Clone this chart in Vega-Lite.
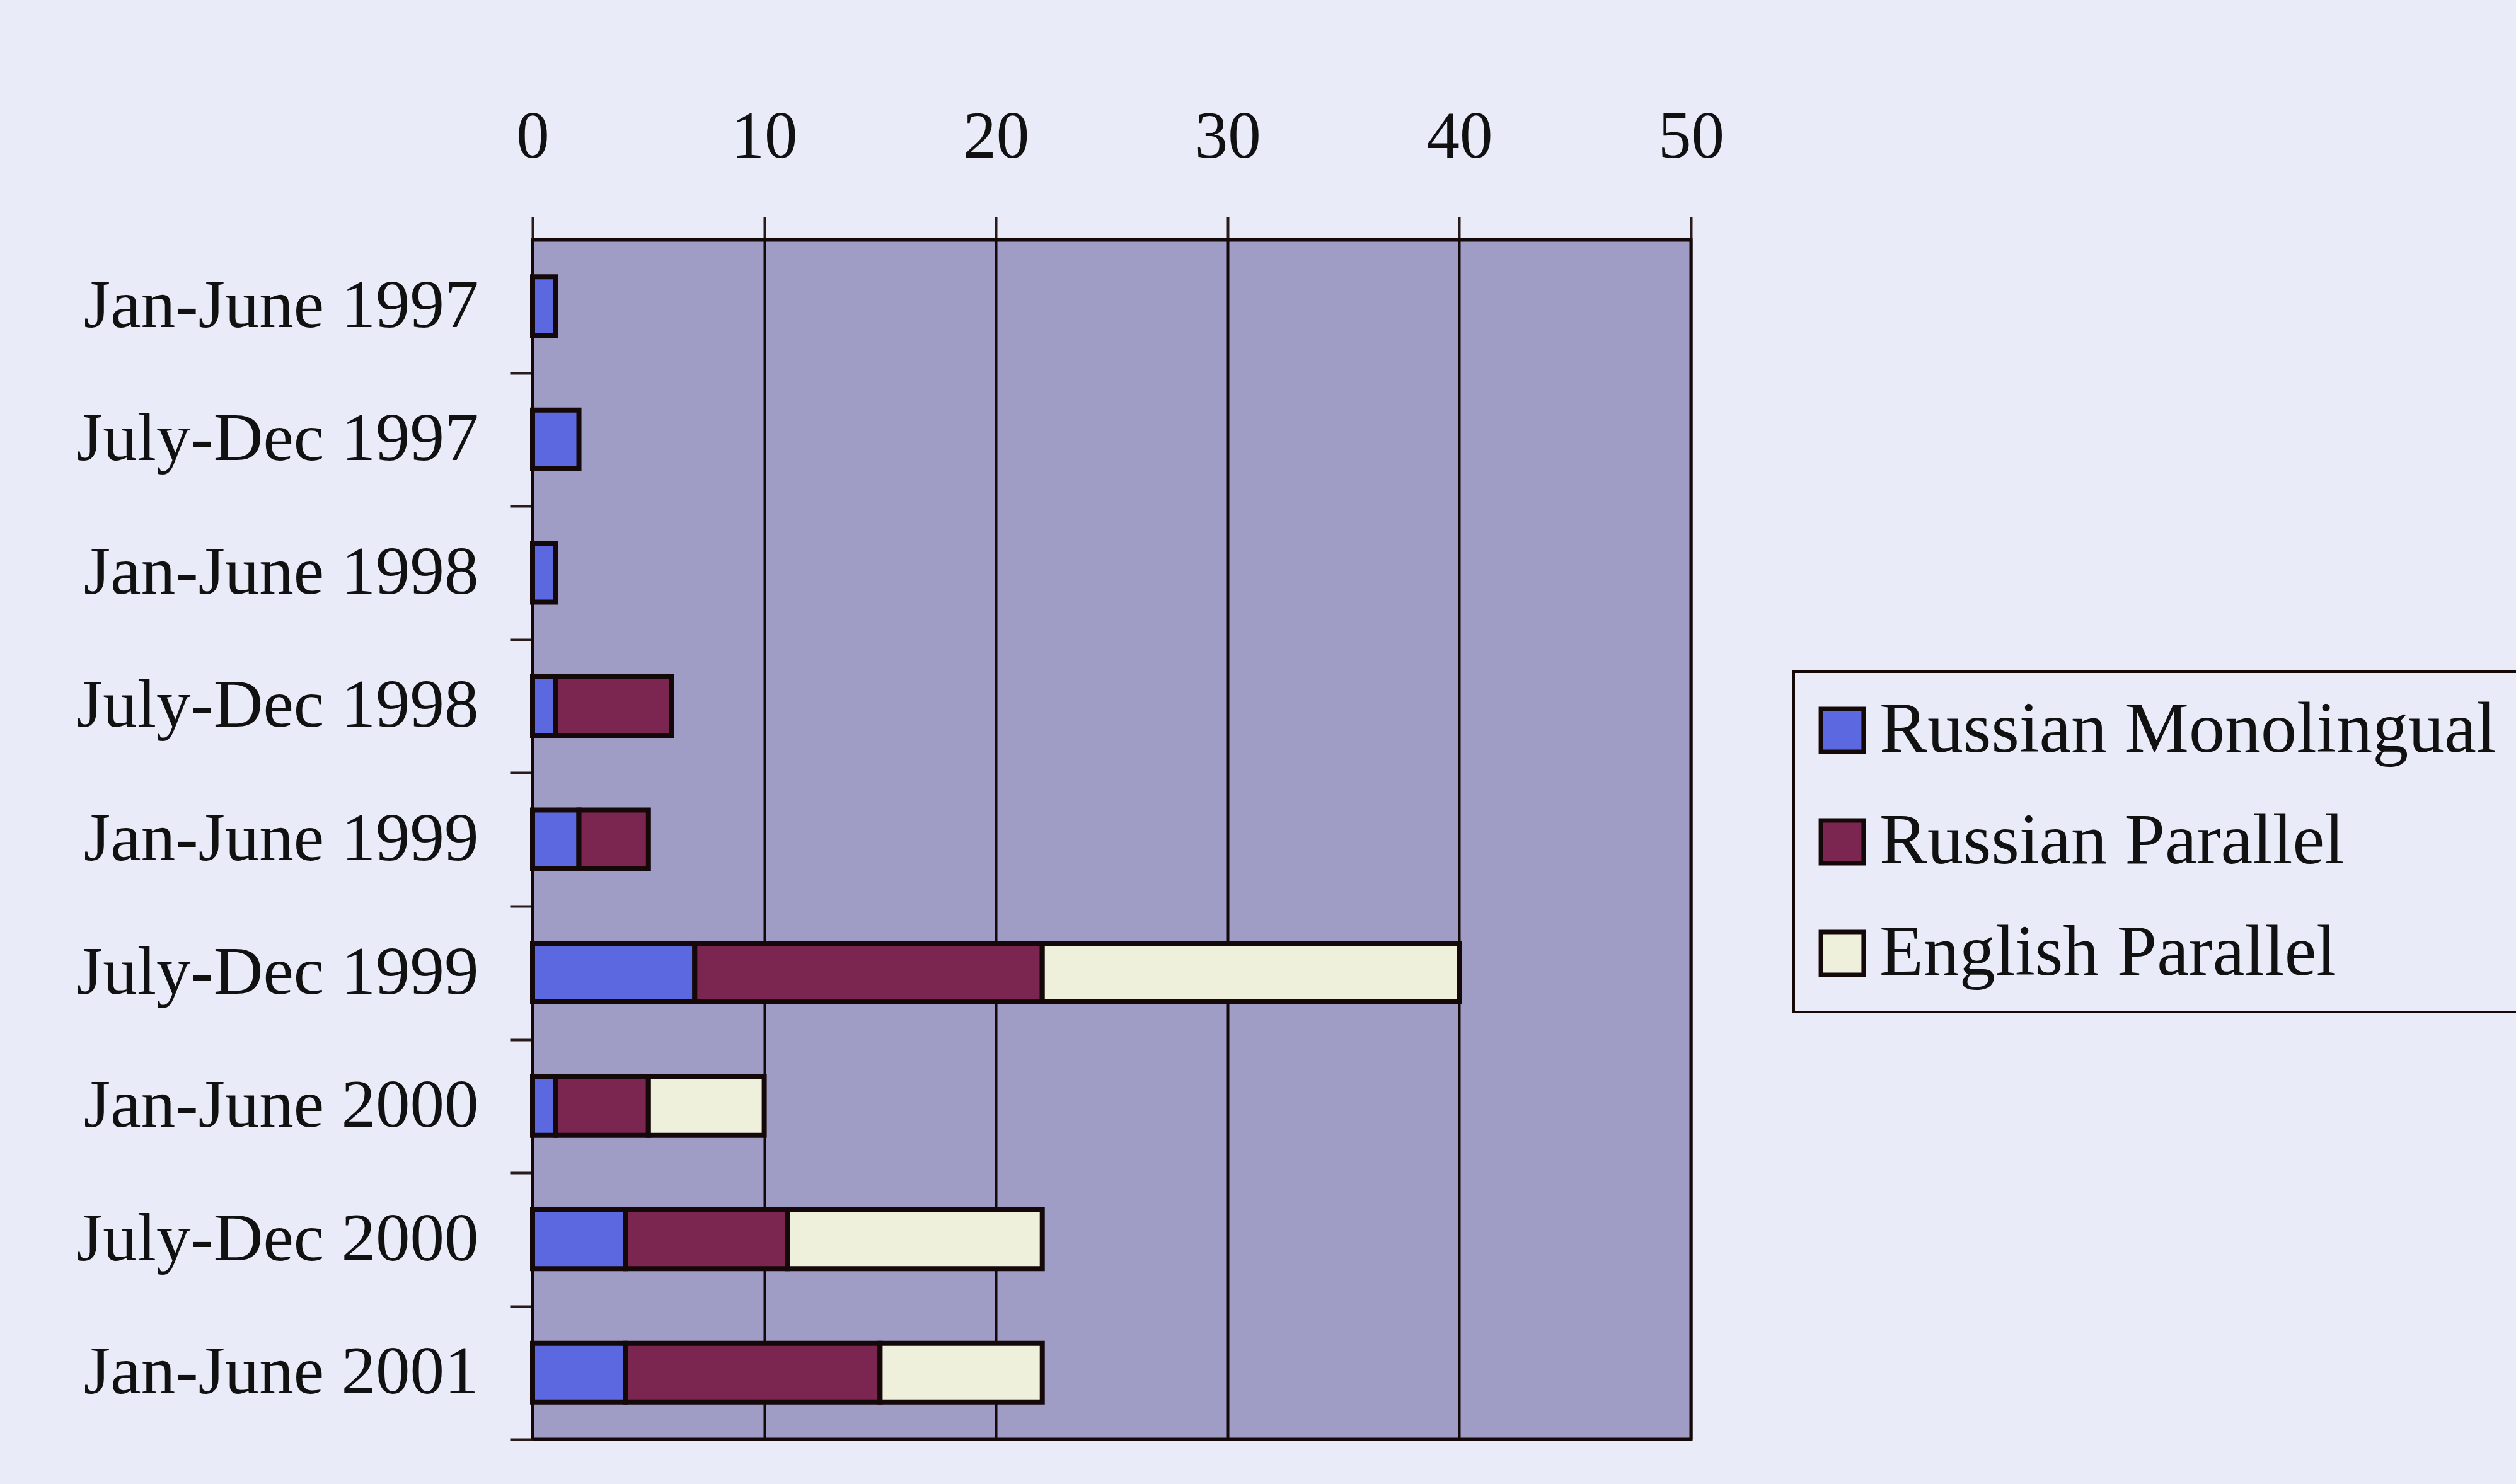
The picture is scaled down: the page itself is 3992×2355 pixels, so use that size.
{
  "$schema": "https://vega.github.io/schema/vega-lite/v6.json",
  "autosize": {"type": "none"},
  "padding": {"left": 845, "top": 380, "right": 1309, "bottom": 71},
  "width": 1838,
  "height": 1904,
  "background": "#e9ecf8",
  "data": {
    "values": [
      {"period": "Jan-June 1997", "type": "Russian Monolingual", "seq": 1, "count": 1},
      {"period": "July-Dec 1997", "type": "Russian Monolingual", "seq": 1, "count": 2},
      {"period": "Jan-June 1998", "type": "Russian Monolingual", "seq": 1, "count": 1},
      {"period": "July-Dec 1998", "type": "Russian Monolingual", "seq": 1, "count": 1},
      {"period": "July-Dec 1998", "type": "Russian Parallel", "seq": 2, "count": 5},
      {"period": "Jan-June 1999", "type": "Russian Monolingual", "seq": 1, "count": 2},
      {"period": "Jan-June 1999", "type": "Russian Parallel", "seq": 2, "count": 3},
      {"period": "July-Dec 1999", "type": "Russian Monolingual", "seq": 1, "count": 7},
      {"period": "July-Dec 1999", "type": "Russian Parallel", "seq": 2, "count": 15},
      {"period": "July-Dec 1999", "type": "English Parallel", "seq": 3, "count": 18},
      {"period": "Jan-June 2000", "type": "Russian Monolingual", "seq": 1, "count": 1},
      {"period": "Jan-June 2000", "type": "Russian Parallel", "seq": 2, "count": 4},
      {"period": "Jan-June 2000", "type": "English Parallel", "seq": 3, "count": 5},
      {"period": "July-Dec 2000", "type": "Russian Monolingual", "seq": 1, "count": 4},
      {"period": "July-Dec 2000", "type": "Russian Parallel", "seq": 2, "count": 7},
      {"period": "July-Dec 2000", "type": "English Parallel", "seq": 3, "count": 11},
      {"period": "Jan-June 2001", "type": "Russian Monolingual", "seq": 1, "count": 4},
      {"period": "Jan-June 2001", "type": "Russian Parallel", "seq": 2, "count": 11},
      {"period": "Jan-June 2001", "type": "English Parallel", "seq": 3, "count": 7}
    ]
  },
  "encoding": {
    "x": {
      "field": "count",
      "type": "quantitative",
      "stack": "zero",
      "scale": {"domain": [0, 50], "nice": false},
      "axis": {
        "orient": "top",
        "title": null,
        "values": [0, 10, 20, 30, 40, 50],
        "labelFlush": false,
        "labelFont": "Liberation Serif",
        "labelFontSize": 105,
        "labelColor": "#111111",
        "labelPadding": 73,
        "tickSize": 36,
        "tickColor": "#2a1a1a",
        "tickWidth": 4,
        "domainColor": "#150808",
        "domainWidth": 6,
        "grid": true,
        "gridColor": "#150808",
        "gridWidth": 4,
        "gridOpacity": 1
      }
    },
    "order": {"field": "seq", "type": "quantitative"}
  },
  "layer": [
    {
      "mark": {"type": "bar", "opacity": 0},
      "encoding": {
        "y": {
          "field": "period",
          "type": "nominal",
          "sort": ["Jan-June 1997", "July-Dec 1997", "Jan-June 1998", "July-Dec 1998", "Jan-June 1999", "July-Dec 1999", "Jan-June 2000", "July-Dec 2000", "Jan-June 2001"],
          "scale": {"paddingInner": 0.56, "paddingOuter": 0.28},
          "axis": {
            "orient": "left",
            "title": null,
            "labels": false,
            "tickOffset": 106,
            "tickSize": 36,
            "tickColor": "#2a1a1a",
            "tickWidth": 4,
            "domainColor": "#150808",
            "domainWidth": 5,
            "grid": false
          }
        }
      }
    },
    {
      "mark": {"type": "bar", "stroke": "#150808", "strokeWidth": 8},
      "encoding": {
        "y": {
          "field": "period",
          "type": "nominal",
          "sort": ["Jan-June 1997", "July-Dec 1997", "Jan-June 1998", "July-Dec 1998", "Jan-June 1999", "July-Dec 1999", "Jan-June 2000", "July-Dec 2000", "Jan-June 2001"],
          "axis": {
            "orient": "left",
            "title": null,
            "ticks": false,
            "domain": false,
            "labelFont": "Liberation Serif",
            "labelFontSize": 109,
            "labelColor": "#111111",
            "labelPadding": 86,
            "grid": false,
            "labelLimit": 2000
          }
        },
        "color": {
          "field": "type",
          "type": "nominal",
          "scale": {
            "domain": ["Russian Monolingual", "Russian Parallel", "English Parallel"],
            "range": ["#5c68e0", "#7a2650", "#eef0dc"]
          },
          "legend": {
            "title": null,
            "orient": "none",
            "legendX": 2001,
            "legendY": 686,
            "direction": "vertical",
            "padding": 36,
            "strokeColor": "#150808",
            "fillColor": "#e9ecf8",
            "symbolType": "square",
            "symbolSize": 4600,
            "symbolOffset": -16,
            "symbolStrokeColor": "#150808",
            "symbolStrokeWidth": 7,
            "symbolOpacity": 1,
            "labelFont": "Liberation Serif",
            "labelFontSize": 114,
            "labelColor": "#111111",
            "labelOffset": 2,
            "labelLimit": 3000,
            "rowPadding": 63,
            "encode": {"legend": {"update": {"strokeWidth": {"value": 4}}}}
          }
        }
      }
    }
  ],
  "resolve": {"axis": {"y": "independent"}},
  "config": {
    "view": {"fill": "#9f9cc6", "stroke": "#150808", "strokeWidth": 5}
  }
}
